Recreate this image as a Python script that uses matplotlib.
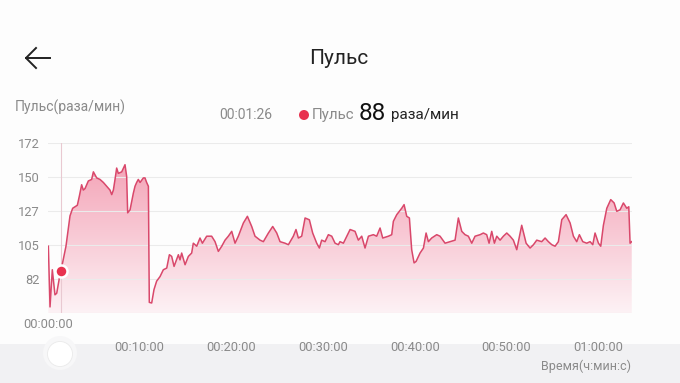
import matplotlib
matplotlib.use("Agg")
import matplotlib.pyplot as plt
import numpy as np
from matplotlib.colors import LinearSegmentedColormap
from matplotlib.lines import Line2D
from matplotlib.patches import Ellipse, Rectangle

plt.rcParams["font.family"] = ["Roboto", "DejaVu Sans"]

# time in minutes, pulse in beats/min
minutes = [
    0.04, 0.22, 0.47, 0.76, 0.95, 1.24, 1.42, 1.96, 2.4, 2.69, 2.95, 3.2, 3.42,
    3.67, 3.85, 4.04, 4.4, 4.76, 4.95, 5.31, 5.67, 6.04, 6.4, 6.76, 6.95, 7.13,
    7.31, 7.49, 7.67, 8.04, 8.4, 8.58, 8.69, 8.95, 9.31, 9.49, 9.67, 9.85,
    10.04, 10.4, 10.58, 10.76, 10.95, 11.05, 11.31, 11.56, 11.85, 12.22, 12.58,
    12.95, 13.24, 13.49, 13.75, 14.22, 14.4, 14.58, 14.95, 15.31, 15.67, 15.85,
    16.22, 16.58, 16.84, 17.31, 17.85, 18.22, 18.58, 18.95, 19.31, 19.67,
    20.04, 20.4, 20.76, 21.31, 21.75, 22.22, 22.58, 23.13, 23.49, 24.04,
    24.51, 24.95, 25.31, 25.85, 26.22, 26.76, 27.05, 27.31, 27.67, 28.04,
    28.51, 28.87, 29.31, 29.6, 29.85, 30.22, 30.58, 30.95, 31.31, 31.67,
    31.85, 32.22, 32.95, 33.49, 33.85, 34.22, 34.58, 34.95, 35.49, 35.85,
    36.22, 36.51, 37.13, 37.49, 37.67, 38.04, 38.58, 38.84, 39.13, 39.42,
    39.67, 39.93, 40.15, 40.58, 40.95, 41.24, 41.49, 41.85, 42.4, 42.76,
    43.31, 43.85, 44.4, 44.76, 45.13, 45.49, 45.85, 46.22, 46.58, 47.13,
    47.49, 47.85, 48.11, 48.4, 48.69, 48.95, 49.31, 49.67, 50.04, 50.4,
    50.76, 51.13, 51.67, 52.15, 52.58, 52.95, 53.31, 53.85, 54.22, 54.58,
    54.95, 55.31, 55.67, 56.04, 56.51, 56.95, 57.31, 57.67, 57.96, 58.33,
    58.76, 59.13, 59.42, 59.67, 60.04, 60.29, 60.58, 60.95, 61.38, 61.75,
    62.04, 62.4, 62.76, 63.13, 63.35, 63.49, 63.67,
]
pulse = [
    104, 64, 88.5, 72, 73, 83, 88, 104, 124, 129, 130, 131, 137,
    144.5, 141, 142, 147, 148, 153, 149, 148, 146, 143.5, 141, 138, 141,
    148, 155.5, 152, 153, 157.7, 150, 126, 128, 139, 143.5, 146, 148,
    146, 149, 149, 146, 143.5, 67, 66.6, 75.4, 81, 84, 88.5,
    89.6, 98.4, 97.3, 90.7, 98.4, 95, 99.5, 91.8, 97.3, 99.5, 106,
    104, 109.4, 106, 110.6, 110.6, 107, 100.6, 104, 108, 110.6,
    113.8, 106, 110.6, 119.3, 123.7, 117, 110.6, 108, 107, 112.7,
    117, 112.7, 107, 106, 105, 110.6, 115, 109.4, 110.6, 122.6,
    121.4, 112.7, 106, 102.8, 108, 107, 111.6, 110.6, 106, 105,
    107, 106, 115, 113.8, 108, 110.6, 102.8, 110.6, 111.6, 110.6,
    116, 109.4, 110.6, 111.6, 120.4, 124.8, 129, 131.4, 123.7, 122.6,
    101.7, 93, 94, 99.5, 102.8, 112.7, 107, 109.4, 111.6, 110.6,
    106, 107, 108, 122.6, 113.8, 111.6, 110.6, 106, 110.6, 111.6,
    112.7, 111.6, 106, 113.8, 106, 110.6, 108, 110.6, 112.7, 110.6,
    108, 101.7, 117.8, 106, 102.8, 105, 108, 107, 109.4, 107,
    105, 104, 107, 121.5, 124.8, 119.3, 110.6, 107, 111.6, 107,
    106, 107, 105, 112.7, 106, 104, 117.8, 129, 134.7, 132.5,
    127, 128, 132.5, 129, 130, 106, 107,
]

y_ticks = [60, 82.4, 104.8, 127.2, 149.6, 172]
y_labels = ["", "82", "105", "127", "150", "172"]
x_ticks = [10, 20, 30, 40, 50, 60]
x_labels = ["00:10:00", "00:20:00", "00:30:00", "00:40:00", "00:50:00", "01:00:00"]

cursor_t = 1.43
cursor_v = 88

LINE = "#d9486b"
GREY = "#8a8a8a"
W, H = 680, 383


def fx(px):
    return px / W


def fy(py):
    return 1 - py / H


def dot(cx, cy, r, **kw):
    # round circle in pixel units on the figure
    return Ellipse((fx(cx), fy(cy)), 2 * r / W, 2 * r / H,
                   transform=fig.transFigure, **kw)


fig = plt.figure(figsize=(6.8, 3.83), dpi=100)
fig.patch.set_facecolor("#fdfdfd")

# bottom slider band with knob
fig.add_artist(Rectangle((0, 0), 1, 39 / H, transform=fig.transFigure,
                         facecolor="#f1f1f3", edgecolor="none", zorder=0))
fig.add_artist(dot(60, 353, 17, facecolor="#f7f7f8", edgecolor="none", zorder=1))
fig.add_artist(dot(60, 354, 12.5, facecolor="white", edgecolor="#eaeaea",
                   lw=0.6, zorder=2))

ax = fig.add_axes([fx(48), fy(313), 584 / W, 170 / H])
ax.set_facecolor("none")
x = np.array(minutes)
y = np.array(pulse)

# gradient fill under the curve
cmap = LinearSegmentedColormap.from_list("pink", ["#fdf2f5", "#f4a5b8"])
grad = np.linspace(0, 1, 256).reshape(-1, 1)
img = ax.imshow(grad, aspect="auto", cmap=cmap, origin="lower",
                extent=[x[0], x[-1], 60, 158], zorder=1)
poly = ax.fill_between(x, y, 60, facecolor="none", edgecolor="none")
img.set_clip_path(poly.get_paths()[0], transform=ax.transData)

ax.plot(x, y, color=LINE, lw=1.1, zorder=3)

ax.set_xlim(0, 63.7)
ax.set_ylim(60, 172)
ax.set_yticks(y_ticks)
ax.set_yticklabels(y_labels)
ax.set_xticks(x_ticks)
ax.set_xticklabels(x_labels)
ax.tick_params(length=0, colors=GREY, labelsize=9.3)
ax.tick_params(axis="x", pad=20)
ax.tick_params(axis="y", pad=6)
ax.grid(axis="y", color="#ebebeb", lw=0.8, zorder=0)
for s in ax.spines.values():
    s.set_visible(False)

ax.axvline(cursor_t, ymax=1, color="#e9c9d1", lw=0.8, zorder=2)
ax.scatter([cursor_t], [cursor_v], s=75, color="#e8324f", edgecolor="white",
           linewidth=1.8, zorder=5)

fig.text(fx(48), fy(325), "00:00:00", color=GREY, fontsize=9.3,
         ha="center", va="center")
fig.text(fx(631), fy(366), "Время(ч:мин:с)", color=GREY, fontsize=9,
         ha="right", va="center")

# header
fig.add_artist(Line2D([fx(26), fx(50)], [fy(58), fy(58)],
                      transform=fig.transFigure, color="#222222", lw=1.4))
fig.add_artist(Line2D([fx(36), fx(26), fx(36)], [fy(48), fy(58), fy(68)],
                      transform=fig.transFigure, color="#222222", lw=1.4))
fig.text(fx(339), fy(58), "Пульс", color="#222222", fontsize=15,
         ha="center", va="center")
fig.text(fx(15), fy(107), "Пульс(раза/мин)", color=GREY, fontsize=10,
         ha="left", va="center")
fig.text(fx(246), fy(115), "00:01:26", color=GREY, fontsize=10,
         ha="center", va="center")
fig.add_artist(dot(304, 115, 5, facecolor="#e8324f", edgecolor="none"))
fig.text(fx(312), fy(115), "Пульс", color=GREY, fontsize=10.8,
         ha="left", va="center")
fig.text(fx(359), fy(114), "88", color="#111111", fontsize=17.5,
         ha="left", va="center")
fig.text(fx(391), fy(115), "раза/мин", color="#222222", fontsize=11,
         ha="left", va="center")

fig.savefig("out.png", dpi=100, facecolor=fig.get_facecolor())
